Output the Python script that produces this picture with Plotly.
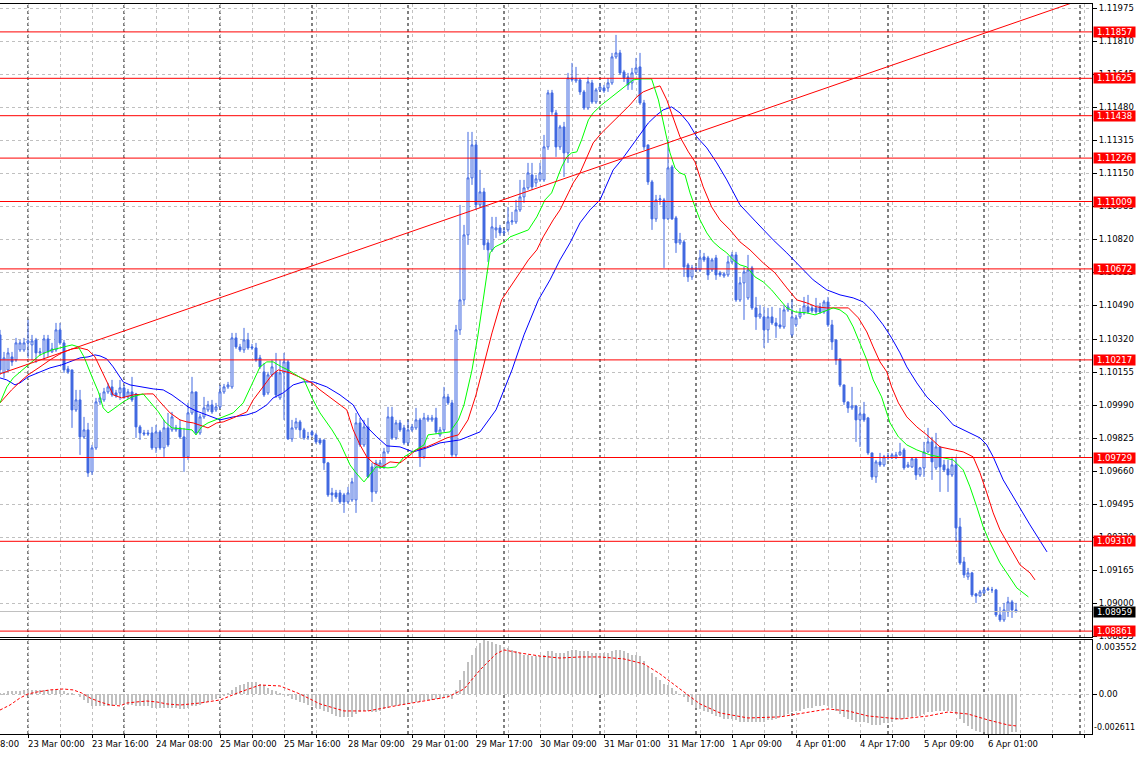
import plotly.graph_objects as go

# ---------------- data ----------------
bar_index = list(range(255))

opens = [
1.10342,1.10152,1.10167,1.10232,1.10217,1.10267,1.10267,1.10302,1.10292,1.10317,
1.10252,1.10252,1.10322,1.10257,1.10267,1.10367,1.10302,1.10172,1.10167,1.09967,
1.10017,1.09832,1.09867,1.09657,1.09777,1.10007,1.10017,1.10057,1.10082,1.10052,
1.10052,1.10077,1.10032,1.10057,1.10047,1.09882,1.09852,1.09852,1.09852,1.09777,
1.09857,1.09777,1.09877,1.09867,1.09867,1.09877,1.09832,1.09732,1.09952,1.10057,
1.09852,1.09932,1.09967,1.09992,1.09967,1.09982,1.10057,1.10082,1.10082,1.10327,
1.10282,1.10267,1.10317,1.10282,1.10277,1.10227,1.10157,1.10052,1.10142,1.10157,
1.10027,1.10152,1.10207,1.09822,1.09877,1.09907,1.09867,1.09832,1.09857,1.09842,
1.09817,1.09817,1.09702,1.09552,1.09552,1.09552,1.09542,1.09507,1.09517,1.09517,
1.09902,1.09792,1.09882,1.09682,1.09557,1.09682,1.09682,1.09757,1.09932,1.09827,
1.09902,1.09877,1.09802,1.09867,1.09877,1.09917,1.09732,1.09917,1.09917,1.09927,
1.09842,1.09867,1.10032,1.10002,1.09742,1.10367,1.10517,1.10842,1.11127,1.11292,
1.10992,1.11057,1.10802,1.10767,1.10867,1.10877,1.10852,1.10867,1.10907,1.10907,
1.10967,1.11032,1.11077,1.11142,1.11102,1.11117,1.11117,1.11282,1.11552,1.11452,
1.11282,1.11382,1.11252,1.11627,1.11612,1.11617,1.11557,1.11477,1.11602,1.11507,
1.11567,1.11577,1.11577,1.11602,1.11732,1.11752,1.11657,1.11632,1.11602,1.11652,
1.11682,1.11502,1.11292,1.11107,1.10922,1.11017,1.11017,1.10922,1.11182,1.10927,
1.10802,1.10807,1.10692,1.10632,1.10677,1.10667,1.10732,1.10727,1.10667,1.10727,
1.10652,1.10637,1.10642,1.10707,1.10742,1.10517,1.10602,1.10527,1.10677,1.10477,
1.10432,1.10432,1.10367,1.10432,1.10402,1.10392,1.10382,1.10467,1.10342,1.10392,
1.10432,1.10452,1.10482,1.10477,1.10477,1.10482,1.10457,1.10507,1.10392,1.10317,
1.10222,1.10092,1.10007,1.09977,1.09987,1.09917,1.09947,1.09927,1.09752,1.09632,
1.09707,1.09692,1.09727,1.09727,1.09727,1.09742,1.09767,1.09682,1.09682,1.09722,
1.09642,1.09677,1.09757,1.09807,1.09677,1.09782,1.09692,1.09672,1.09642,1.09692,
1.09382,1.09207,1.09132,1.09152,1.09047,1.09037,1.09052,1.09067,1.09067,1.09067,
1.08942,1.08917,1.08957,1.09007,1.08967]

highs = [
1.10367,1.10257,1.10277,1.10257,1.10327,1.10317,1.10327,1.10417,1.10342,1.10327,
1.10277,1.10342,1.10342,1.10302,1.10402,1.10402,1.10317,1.10187,1.10167,1.10067,
1.10067,1.09932,1.09902,1.09792,1.10027,1.10052,1.10077,1.10102,1.10117,1.10067,
1.10117,1.10092,1.10072,1.10132,1.10052,1.09892,1.09867,1.09867,1.09882,1.09892,
1.09867,1.09917,1.09952,1.09957,1.09892,1.09917,1.09877,1.10002,1.10132,1.10057,
1.09947,1.10032,1.10012,1.10017,1.10002,1.10092,1.10097,1.10107,1.10352,1.10352,
1.10297,1.10377,1.10352,1.10297,1.10302,1.10242,1.10202,1.10157,1.10217,1.10252,
1.10217,1.10252,1.10217,1.09917,1.09927,1.09917,1.09877,1.09857,1.09867,1.09852,
1.09827,1.09817,1.09707,1.09577,1.09567,1.09567,1.09552,1.09582,1.09627,1.09952,
1.09927,1.09917,1.09927,1.09702,1.09717,1.09717,1.09777,1.09982,1.09982,1.09917,
1.09917,1.09892,1.09917,1.09897,1.09977,1.09927,1.09952,1.09942,1.09942,1.09977,
1.09882,1.10082,1.10047,1.10017,1.10392,1.10992,1.10892,1.11357,1.11357,1.11317,
1.11167,1.11077,1.10817,1.10932,1.10932,1.10892,1.10877,1.10982,1.10957,1.11017,
1.11117,1.11117,1.11202,1.11202,1.11142,1.11202,1.11342,1.11567,1.11567,1.11467,
1.11392,1.11407,1.11652,1.11702,1.11682,1.11627,1.11567,1.11632,1.11617,1.11577,
1.11602,1.11592,1.11627,1.11752,1.11842,1.11767,1.11667,1.11652,1.11677,1.11727,
1.11752,1.11517,1.11292,1.11117,1.11042,1.11042,1.11027,1.11317,1.11192,1.10937,
1.10852,1.10817,1.10702,1.10692,1.10687,1.10767,1.10752,1.10737,1.10727,1.10742,
1.10662,1.10657,1.10737,1.10757,1.10757,1.10632,1.10682,1.10742,1.10687,1.10532,
1.10492,1.10482,1.10477,1.10482,1.10427,1.10477,1.10492,1.10502,1.10517,1.10442,
1.10477,1.10532,1.10542,1.10492,1.10527,1.10502,1.10517,1.10532,1.10417,1.10317,
1.10222,1.10092,1.10007,1.10082,1.09992,1.09982,1.10007,1.09932,1.09752,1.09717,
1.09752,1.09742,1.09752,1.09752,1.09757,1.09802,1.09777,1.09707,1.09727,1.09727,
1.09682,1.09807,1.09877,1.09832,1.09852,1.09782,1.09717,1.09717,1.09732,1.09732,
1.09427,1.09232,1.09177,1.09157,1.09052,1.09067,1.09082,1.09082,1.09082,1.09072,
1.08982,1.09002,1.09032,1.09017,1.09002]

lows = [
1.10142,1.10127,1.10157,1.10187,1.10207,1.10257,1.10257,1.10227,1.10217,1.10202,
1.10237,1.10217,1.10232,1.10252,1.10257,1.10292,1.10152,1.10147,1.09877,1.09957,
1.09742,1.09822,1.09632,1.09642,1.09767,1.09992,1.10007,1.10047,1.10032,1.10027,
1.10017,1.10022,1.10022,1.10007,1.09827,1.09817,1.09837,1.09837,1.09767,1.09752,
1.09767,1.09732,1.09782,1.09857,1.09857,1.09822,1.09657,1.09717,1.09942,1.09842,
1.09842,1.09922,1.09957,1.09947,1.09957,1.09972,1.10047,1.10072,1.10072,1.10272,
1.10257,1.10252,1.10267,1.10267,1.10207,1.10172,1.10032,1.10042,1.10132,1.10027,
1.10017,1.09917,1.09817,1.09807,1.09867,1.09827,1.09817,1.09817,1.09832,1.09797,
1.09792,1.09667,1.09532,1.09507,1.09522,1.09497,1.09452,1.09497,1.09507,1.09452,
1.09782,1.09782,1.09627,1.09507,1.09547,1.09672,1.09672,1.09747,1.09817,1.09817,
1.09857,1.09792,1.09792,1.09857,1.09867,1.09682,1.09722,1.09907,1.09907,1.09847,
1.09832,1.09857,1.09992,1.09732,1.09732,1.10342,1.10492,1.10792,1.11092,1.10967,
1.10977,1.10767,1.10707,1.10757,1.10827,1.10837,1.10837,1.10857,1.10892,1.10897,
1.10957,1.11002,1.11067,1.11067,1.11082,1.11107,1.11107,1.11267,1.11442,1.11232,
1.11267,1.11132,1.11202,1.11607,1.11602,1.11542,1.11467,1.11467,1.11497,1.11497,
1.11557,1.11552,1.11557,1.11592,1.11722,1.11642,1.11607,1.11567,1.11567,1.11642,
1.11492,1.11267,1.11092,1.10867,1.10907,1.10992,1.10677,1.10917,1.10917,1.10752,
1.10792,1.10632,1.10607,1.10617,1.10657,1.10657,1.10707,1.10617,1.10657,1.10617,
1.10632,1.10627,1.10632,1.10697,1.10507,1.10507,1.10417,1.10517,1.10467,1.10367,
1.10422,1.10277,1.10302,1.10392,1.10327,1.10372,1.10372,1.10457,1.10332,1.10382,
1.10422,1.10442,1.10447,1.10452,1.10447,1.10447,1.10447,1.10382,1.10267,1.10192,
1.10082,1.09992,1.09952,1.09967,1.09807,1.09782,1.09907,1.09742,1.09617,1.09602,
1.09682,1.09682,1.09717,1.09722,1.09722,1.09737,1.09667,1.09677,1.09677,1.09617,
1.09632,1.09632,1.09752,1.09617,1.09667,1.09557,1.09657,1.09557,1.09632,1.09307,
1.09192,1.09127,1.09117,1.09032,1.09002,1.09032,1.09047,1.09062,1.09052,1.08932,
1.08907,1.08907,1.08932,1.08927,1.08952]

closes = [
1.10167,1.10227,1.10252,1.10207,1.10302,1.10302,1.10302,1.10312,1.10312,1.10252,
1.10257,1.10322,1.10257,1.10272,1.10367,1.10302,1.10167,1.10157,1.09967,1.10017,
1.09832,1.09867,1.09652,1.09777,1.10007,1.10027,1.10057,1.10082,1.10042,1.10037,
1.10077,1.10032,1.10057,1.10017,1.09882,1.09852,1.09847,1.09847,1.09777,1.09857,
1.09777,1.09877,1.09792,1.09932,1.09877,1.09832,1.09732,1.09952,1.10057,1.09852,
1.09932,1.09977,1.09992,1.09957,1.09982,1.10057,1.10082,1.10092,1.10327,1.10282,
1.10267,1.10317,1.10277,1.10277,1.10217,1.10182,1.10042,1.10142,1.10182,1.10042,
1.10152,1.10207,1.09822,1.09877,1.09907,1.09867,1.09827,1.09832,1.09842,1.09807,
1.09802,1.09702,1.09542,1.09542,1.09532,1.09507,1.09507,1.09552,1.09607,1.09902,
1.09792,1.09882,1.09632,1.09557,1.09702,1.09702,1.09757,1.09932,1.09827,1.09902,
1.09867,1.09802,1.09867,1.09882,1.09917,1.09732,1.09927,1.09927,1.09927,1.09857,
1.09867,1.10032,1.10002,1.09742,1.10367,1.10517,1.10842,1.11127,1.11292,1.10992,
1.11057,1.10792,1.10767,1.10882,1.10877,1.10852,1.10857,1.10907,1.10912,1.10967,
1.11032,1.11077,1.11152,1.11082,1.11122,1.11152,1.11282,1.11552,1.11457,1.11282,
1.11382,1.11252,1.11627,1.11617,1.11622,1.11557,1.11477,1.11607,1.11507,1.11567,
1.11582,1.11562,1.11602,1.11732,1.11752,1.11652,1.11627,1.11592,1.11652,1.11677,
1.11502,1.11282,1.11107,1.10922,1.11017,1.11022,1.10922,1.11177,1.10922,1.10802,
1.10817,1.10682,1.10632,1.10677,1.10667,1.10727,1.10717,1.10642,1.10717,1.10642,
1.10642,1.10647,1.10707,1.10742,1.10517,1.10602,1.10657,1.10667,1.10477,1.10432,
1.10447,1.10367,1.10432,1.10402,1.10387,1.10382,1.10467,1.10482,1.10432,1.10427,
1.10452,1.10487,1.10457,1.10462,1.10457,1.10457,1.10507,1.10392,1.10307,1.10217,
1.10092,1.10007,1.09977,1.09987,1.09917,1.09947,1.09917,1.09752,1.09632,1.09707,
1.09692,1.09732,1.09732,1.09742,1.09742,1.09757,1.09677,1.09692,1.09722,1.09642,
1.09677,1.09757,1.09807,1.09707,1.09782,1.09682,1.09667,1.09642,1.09692,1.09377,
1.09202,1.09142,1.09152,1.09042,1.09037,1.09057,1.09067,1.09072,1.09067,1.08942,
1.08917,1.08967,1.09007,1.08967,1.08959]

# Alligator-style moving averages (bar position, price)
lips_idx = [0,1.7,3.3,7,10,13,16,18,19.6,21,23,24.6,25.8,27,28.75,30.8,33,35.8,37.5,39.6,
            41.25,43,45.8,48,49,50.4,52,55,58.3,60.8,63.3,65,66.7,68.3,70.4,72,74,76,78,80,
            83,85,87.5,89,91,92,94,97,99,101,104,106,107,110,112.5,114.6,116,118,119.5,120.8,
            122.5,123.75,126.25,127.5,132.1,134.2,136.25,137.9,139.2,140.4,141.7,142.9,144.2,145.4,147.1,148.3,150.4,152.9,155,156.7,
            158.3,160,162.9,164.6,166.25,167.5,168.75,170,171.25,172.5,173.75,175,176.7,178.3,180,181.7,183.3,185,186.7,188.75,
            190.8,192.9,195,196.7,198.75,201.7,203.75,205.8,208.3,210,211.7,213.3,215,216.7,218.3,220.4,222.5,224.6,226.7,229.2,
            232.5,235.8,238.3,240.8,242.5,244.2,245.8,247.5,250,251.7,254.2,257.1]
lips_val = [1.10002,1.10082,1.10127,1.10192,1.10242,1.10267,1.10282,1.10292,1.10282,1.10232,
            1.10132,1.10057,1.09977,1.09952,1.09977,1.10007,1.10032,1.10047,1.10007,1.09957,
            1.09907,1.09877,1.09872,1.09867,1.09842,1.09882,1.09902,1.09927,1.09952,1.10002,
            1.10107,1.10182,1.10207,1.10207,1.10182,1.10167,1.10142,1.10117,1.10027,1.09952,
            1.09867,1.09802,1.09692,1.09652,1.09607,1.09632,1.09682,1.09677,1.09682,1.09732,
            1.09767,1.09792,1.09842,1.09852,1.09857,1.09917,1.09992,1.10167,1.10342,1.10517,
            1.10752,1.10782,1.10807,1.10832,1.10867,1.10932,1.11017,1.11052,1.11117,1.11182,
            1.11232,1.11252,1.11257,1.11317,1.11417,1.11452,1.11492,1.11532,1.11567,1.11592,
            1.11617,1.11622,1.11622,1.11517,1.11367,1.11252,1.11177,1.11152,1.11142,1.11052,
            1.10982,1.10917,1.10852,1.10807,1.10777,1.10752,1.10717,1.10692,1.10682,1.10632,
            1.10607,1.10567,1.10517,1.10477,1.10457,1.10452,1.10442,1.10457,1.10477,1.10467,
            1.10442,1.10382,1.10302,1.10217,1.10117,1.10032,1.09902,1.09832,1.09792,1.09767,
            1.09742,1.09727,1.09717,1.09667,1.09582,1.09482,1.09382,1.09302,1.09202,1.09152,
            1.09077,1.09032]

teeth_idx = [0,2.9,5,7,10,12.5,15.4,18,20,22,23.75,25,26.7,28.3,30.4,33.3,36.7,38.3,40,42.5,
             45,46.7,48.3,50,52,54.2,55.8,58.3,61.7,63.3,65.8,68,69.6,72.5,75.4,78,80,83.3,86.7,88.3,
             90,91.7,93.3,95.4,97.5,100,102,104,106.7,109,111.7,114.6,117,119,121,123,125.4,129.2,132.1,134.2,
             135.8,138.3,140,142.1,143.3,145,146.7,148.3,150.4,152.5,155,157.5,159.2,160.8,163.3,165,166.7,168.3,170,172.1,
             173.75,175.8,177.9,180,182.5,185,187.5,190.8,193.75,196.7,199.2,201.7,204.2,206.7,212.1,214.6,216.7,218.3,220,221.7,
             222.9,224.6,226.7,229.2,231.7,235,238.3,240.8,243.3,245,246.7,248.3,250,252.5,255,257.5,258.75]
teeth_val = [1.10002,1.10067,1.10107,1.10142,1.10182,1.10217,1.10252,1.10272,1.10277,1.10267,
             1.10232,1.10182,1.10107,1.10042,1.10027,1.10042,1.10047,1.10047,1.10007,1.09952,
             1.09917,1.09907,1.09902,1.09892,1.09877,1.09902,1.09907,1.09927,1.09957,1.10017,
             1.10082,1.10142,1.10167,1.10152,1.10127,1.10102,1.10067,1.10017,1.09967,1.09867,
             1.09792,1.09732,1.09702,1.09682,1.09707,1.09702,1.09732,1.09767,1.09782,1.09802,
             1.09827,1.09842,1.09917,1.10042,1.10192,1.10352,1.10517,1.10632,1.10717,1.10767,
             1.10832,1.10917,1.10967,1.11052,1.11102,1.11152,1.11227,1.11302,1.11352,1.11392,
             1.11442,1.11492,1.11532,1.11557,1.11577,1.11587,1.11517,1.11432,1.11332,1.11257,
             1.11207,1.11082,1.10982,1.10917,1.10867,1.10807,1.10767,1.10702,1.10652,1.10577,
             1.10517,1.10502,1.10482,1.10477,1.10477,1.10427,1.10357,1.10282,1.10207,1.10157,
             1.10082,1.10002,1.09932,1.09882,1.09842,1.09782,1.09767,1.09757,1.09732,1.09652,
             1.09552,1.09452,1.09367,1.09282,1.09192,1.09152,1.09117]

jaw_idx = [0,1.7,3.75,5,7,10,12.5,15.4,18,20,22,23.75,25,26.7,28.3,29.6,30.8,32.5,35,38.3,
           40.8,43,45.4,47,49,51,53.3,55,58.3,61.7,64,66.7,68.3,70.8,73.3,75.8,78.3,81.7,85,88.3,
           90,91.7,94.2,96.7,100,103.3,106.7,110,113.3,115,120,124,128,131,134.6,137.5,140,142.5,145,147.5,
           150,151.7,153.3,155.4,157.5,160,162.1,164.2,165.8,167.9,170,172.1,174.2,176.7,179.2,181.7,185,189,193.3,196.7,
           200,203.3,206.7,210,213.3,215.8,218.3,220.8,222.9,225,226.7,229.2,231.7,235,238.3,241.7,245,246.7,248.3,250.8,
           253.3,255.8,257.5,261.75]
jaw_val = [1.10127,1.10117,1.10092,1.10102,1.10132,1.10157,1.10177,1.10192,1.10212,1.10227,
           1.10232,1.10242,1.10237,1.10222,1.10182,1.10142,1.10107,1.10092,1.10082,1.10072,
           1.10067,1.10042,1.10007,1.09982,1.09962,1.09947,1.09927,1.09917,1.09932,1.09942,
           1.09957,1.09992,1.10027,1.10052,1.10092,1.10107,1.10107,1.10082,1.10042,1.09992,
           1.09932,1.09882,1.09832,1.09787,1.09782,1.09757,1.09777,1.09802,1.09812,1.09817,
           1.09857,1.09967,1.10167,1.10342,1.10517,1.10617,1.10717,1.10802,1.10902,1.10967,
           1.11017,1.11092,1.11167,1.11217,1.11277,1.11342,1.11402,1.11442,1.11467,1.11482,
           1.11452,1.11402,1.11332,1.11277,1.11202,1.11117,1.10992,1.10907,1.10817,1.10752,
           1.10682,1.10617,1.10567,1.10542,1.10527,1.10507,1.10457,1.10392,1.10327,1.10252,
           1.10182,1.10102,1.10032,1.09967,1.09892,1.09857,1.09827,1.09792,1.09732,1.09617,
           1.09532,1.09452,1.09392,1.09257]

macd_hist = [
0.0001,0.0001,0.0002,0.0002,
0.0002,0.0002,0.0003,0.0003,0.0003,0.0003,0.0003,0.0003,0.0003,0.0003,0.0003,0.0003,0.0002,0.0001,0.0001,0.0000,
-0.0002,-0.0004,-0.0006,-0.0008,-0.0008,-0.0008,-0.0008,-0.0008,-0.0008,-0.0007,-0.0007,
-0.0007,-0.0007,-0.0007,-0.0008,-0.0008,-0.0008,-0.0008,-0.0009,-0.0009,-0.0009,
-0.0009,-0.0009,-0.0009,-0.0009,-0.0010,-0.0010,-0.0009,-0.0008,-0.0008,-0.0007,
-0.0006,-0.0005,-0.0004,-0.0003,-0.0002,-0.0001,0.0001,
0.0003,0.0005,0.0006,0.0007,0.0008,0.0008,0.0008,0.0007,0.0006,
0.0004,0.0003,0.0002,0.0001,0.0000,-0.0001,-0.0003,-0.0004,-0.0005,
-0.0006,-0.0007,-0.0008,-0.0009,-0.0010,-0.0011,-0.0012,-0.0013,-0.0014,-0.0015,-0.0015,-0.0015,-0.0015,-0.0013,-0.0012,
-0.0011,-0.0011,-0.0012,-0.0012,-0.0011,-0.0010,-0.0009,-0.0008,-0.0008,-0.0007,-0.0007,-0.0006,-0.0006,-0.0005,-0.0005,
-0.0004,-0.0004,-0.0004,-0.0003,-0.0003,-0.0002,-0.0002,-0.0003,
0.0003,0.0009,0.0015,0.0021,0.0026,0.0030,0.00335,0.003552,0.0035,0.0034,0.0033,0.0032,0.0031,0.0030,0.0029,0.0028,0.0027,
0.0026,0.0026,0.0025,0.0025,0.0025,0.0026,0.0028,0.0028,0.0027,0.0027,0.0027,0.0028,0.0029,0.0029,0.0028,0.0028,0.0028,0.0027,0.0027,0.0027,
0.0027,0.0027,0.0028,0.0029,0.0029,0.0028,0.0027,0.0026,0.0026,0.0025,
0.0022,0.0018,0.0014,0.0011,0.0009,0.0007,0.0006,0.0004,0.0002,0.0000,
-0.0002,-0.0005,-0.0007,-0.0009,-0.0010,-0.0011,-0.0012,-0.0013,-0.0014,-0.0015,-0.0016,-0.0016,-0.0016,-0.0017,-0.0018,
-0.0018,-0.0018,-0.0018,-0.0018,-0.0018,-0.0018,-0.0017,-0.0017,-0.0016,-0.0015,-0.0014,-0.0013,-0.0012,-0.0011,-0.0011,
-0.0010,-0.0009,-0.0009,-0.0008,-0.0008,-0.0007,-0.0008,-0.0009,-0.0011,-0.0013,-0.0015,-0.0016,-0.0017,-0.0018,-0.0018,
-0.0018,-0.0019,-0.0020,-0.0020,-0.0020,-0.0019,-0.0019,-0.0018,-0.0017,-0.0016,-0.0016,-0.0015,-0.0015,-0.0014,-0.0014,
-0.0013,-0.0012,-0.0012,-0.0011,-0.0011,-0.0011,-0.0011,-0.0011,
-0.0013,-0.0016,-0.0019,-0.0021,-0.0023,-0.0024,-0.0025,-0.0025,-0.002611,-0.0026,-0.0026,-0.0026,-0.0026,-0.0026,-0.0025,-0.0025]

signal_idx = [0,2.5,5,7,9.2,12.5,15.8,18.3,20.4,22.5,25,27.5,30,31.7,34.2,36.7,39.2,41.7,45,47.5,
              50,55,60,65,70,75,80,86,92,100,107,112,116,120,124,126,130,135,140,145,
              150,156,161,165,170,175,180,187,195,202,207,212,217,225,232,237,242,247,252,254]
signal_val = [-0.00104,-0.00071,-0.00025,0.00001,0.00014,0.00028,0.00034,0.00028,0.00008,-0.00025,
              -0.00051,-0.00071,-0.00077,-0.00058,-0.00051,-0.00045,-0.00051,-0.00064,-0.00071,-0.00064,
              -0.00058,-0.00038,0.00014,0.00060,0.00054,0.00001,-0.00064,-0.00110,-0.00110,-0.00071,
              -0.00038,-0.00018,0.00034,0.00159,0.00264,0.00290,0.00270,0.00250,0.00237,0.00244,
              0.00244,0.00231,0.00198,0.00133,0.00034,-0.00064,-0.00123,-0.00156,-0.00149,-0.00117,
              -0.00097,-0.00110,-0.00143,-0.00163,-0.00143,-0.00117,-0.00130,-0.00169,-0.00202,-0.00208]

level_prices = [1.11857, 1.11625, 1.11438, 1.11226, 1.11009, 1.10672, 1.10217, 1.09729, 1.09310, 1.08861]
bid_price = 1.08959
trend_idx = [0, 268]
trend_price = [1.10147, 1.12002]

price_ticks = [1.08835, 1.09000, 1.09165, 1.09330, 1.09495, 1.09660, 1.09825, 1.09990, 1.10155, 1.10320,
               1.10490, 1.10655, 1.10820, 1.10985, 1.11150, 1.11315, 1.11480, 1.11645, 1.11810, 1.11975]
macd_top, macd_bottom = 0.003552, -0.002611

label_idx = [7, 23, 39, 55, 71, 87, 103, 119, 135, 151, 167, 183, 199, 215, 231, 247]
label_txt = ["23 Mar 00:00", "23 Mar 16:00", "24 Mar 08:00", "25 Mar 00:00", "25 Mar 16:00",
             "28 Mar 09:00", "29 Mar 01:00", "29 Mar 17:00", "30 Mar 09:00", "31 Mar 01:00",
             "31 Mar 17:00", "1 Apr 09:00", "4 Apr 01:00", "4 Apr 17:00", "5 Apr 09:00", "6 Apr 01:00"]
grid_idx = list(range(7, 273, 8))
separator_idx = [7, 31, 55, 78, 102, 126, 150, 174, 198, 222, 246, 270]

# ---------------- figure ----------------
FONT = "DejaVu Sans"
FS = 8.5
BLUE = "#4169E1"
GRID = "#C0C0C0"
n = min(len(bar_index), len(opens), len(highs), len(lows), len(closes))

fig = go.Figure()
fig.add_trace(go.Candlestick(
    x=bar_index[:n], open=opens[:n], high=highs[:n], low=lows[:n], close=closes[:n],
    increasing=dict(line=dict(color=BLUE, width=1), fillcolor="white"),
    decreasing=dict(line=dict(color=BLUE, width=1), fillcolor=BLUE),
    whiskerwidth=0, hoverinfo="skip", xaxis="x", yaxis="y", showlegend=False))

fig.add_trace(go.Scatter(x=jaw_idx, y=jaw_val, mode="lines", line=dict(color="#0000FF", width=1),
                         hoverinfo="skip", showlegend=False, xaxis="x", yaxis="y"))
fig.add_trace(go.Scatter(x=teeth_idx, y=teeth_val, mode="lines", line=dict(color="#FF0000", width=1),
                         hoverinfo="skip", showlegend=False, xaxis="x", yaxis="y"))
fig.add_trace(go.Scatter(x=lips_idx, y=lips_val, mode="lines", line=dict(color="#00FF00", width=1),
                         hoverinfo="skip", showlegend=False, xaxis="x", yaxis="y"))
fig.add_trace(go.Scatter(x=trend_idx, y=trend_price, mode="lines", line=dict(color="#FF0000", width=1),
                         hoverinfo="skip", showlegend=False, xaxis="x", yaxis="y"))

m = min(len(bar_index), len(macd_hist))
fig.add_trace(go.Bar(x=bar_index[:m], y=macd_hist[:m], width=0.3,
                     marker=dict(color=GRID, line=dict(width=0)),
                     hoverinfo="skip", showlegend=False, xaxis="x2", yaxis="y2"))
fig.add_trace(go.Scatter(x=signal_idx, y=signal_val, mode="lines",
                         line=dict(color="#FF0000", width=1, dash="3px,2px"),
                         hoverinfo="skip", showlegend=False, xaxis="x2", yaxis="y2"))

shapes = []
for s in separator_idx:
    shapes.append(dict(type="line", xref="x", yref="paper", x0=s, x1=s, y0=0, y1=1,
                       line=dict(color="black", width=1, dash="3px,3px"), layer="between"))
for lv in level_prices:
    shapes.append(dict(type="line", xref="x domain", yref="y", x0=0, x1=1, y0=lv, y1=lv,
                       line=dict(color="#FF0000", width=1), layer="above"))
shapes.append(dict(type="line", xref="x domain", yref="y", x0=0, x1=1, y0=bid_price, y1=bid_price,
                   line=dict(color=GRID, width=1), layer="above"))

annotations = []
for lv in level_prices:
    annotations.append(dict(xref="paper", yref="y", x=1, y=lv, xanchor="left", yanchor="middle",
                            xshift=1, text=f"{lv:.5f}", showarrow=False, bgcolor="#FF0000",
                            width=41, height=10, borderpad=0, align="center",
                            font=dict(family=FONT, size=FS, color="white")))
annotations.append(dict(xref="paper", yref="y", x=1, y=bid_price, xanchor="left", yanchor="middle",
                        xshift=1, text=f"{bid_price:.5f}", showarrow=False, bgcolor="black",
                        width=41, height=10, borderpad=0, align="center",
                        font=dict(family=FONT, size=FS, color="white")))
annotations.append(dict(xref="paper", yref="y2", x=1, y=macd_top, xanchor="left", yanchor="top",
                        xshift=2, text=f"{macd_top:.6f}", showarrow=False,
                        font=dict(family=FONT, size=FS, color="black")))
annotations.append(dict(xref="paper", yref="y2", x=1, y=macd_bottom, xanchor="left", yanchor="bottom",
                        xshift=0, text=f"{macd_bottom:.6f}", showarrow=False,
                        font=dict(family=FONT, size=8, color="black")))
for xi, tx in zip(label_idx, label_txt):
    annotations.append(dict(xref="x2", yref="paper", x=xi, y=0, xanchor="left", yanchor="top",
                            xshift=-2, yshift=-3, text=tx, showarrow=False,
                            font=dict(family=FONT, size=FS, color="black")))
annotations.append(dict(xref="paper", yref="paper", x=0, y=0, xanchor="left", yanchor="top",
                        xshift=-2, yshift=-3, text="8:00", showarrow=False,
                        font=dict(family=FONT, size=FS, color="black")))

H_TOTAL = 730.0
main_bottom = (734 - 637) / H_TOTAL
ind_top = (734 - 640) / H_TOTAL

fig.update_layout(
    width=1140, height=757,
    margin=dict(l=0, r=48, t=4, b=23),
    paper_bgcolor="white", plot_bgcolor="white",
    showlegend=False, hovermode=False, bargap=0,
    font=dict(family=FONT, size=FS, color="black"),
    shapes=shapes, annotations=annotations,
    xaxis=dict(domain=[0, 1], anchor="y", range=[0, 273], tickvals=grid_idx, showticklabels=False,
               ticks="", showgrid=True, gridcolor=GRID, griddash="3px,3px", zeroline=False,
               showline=True, linecolor="black", mirror=True, rangeslider=dict(visible=False)),
    yaxis=dict(domain=[main_bottom, 1], anchor="x", side="right", range=[1.088315, 1.119965],
               tickvals=price_ticks, ticktext=[f"{t:.5f}" for t in price_ticks],
               ticks="outside", ticklen=4, tickcolor="black", showline=True, linecolor="black",
               showgrid=True, gridcolor=GRID, griddash="3px,3px", zeroline=False,
               tickfont=dict(family=FONT, size=FS, color="black")),
    xaxis2=dict(domain=[0, 1], anchor="y2", matches="x", range=[0, 273], tickvals=grid_idx,
                showticklabels=False, ticks="outside", ticklen=3, tickcolor="black",
                showgrid=True, gridcolor=GRID, griddash="3px,3px", zeroline=False,
                showline=True, linecolor="black", mirror=True),
    yaxis2=dict(domain=[0, ind_top], anchor="x2", side="right", range=[macd_bottom, macd_top],
                tickvals=[0], ticktext=["0.00"], ticks="outside", ticklen=4, tickcolor="black",
                showline=True, linecolor="black", showgrid=True, gridcolor=GRID, griddash="3px,3px",
                zeroline=False, tickfont=dict(family=FONT, size=FS, color="black")),
)

fig.write_html("out.html", config={"displayModeBar": False},
               post_script="document.body.style.margin='0';document.body.style.padding='0';"
                           "document.body.style.overflow='hidden';")
